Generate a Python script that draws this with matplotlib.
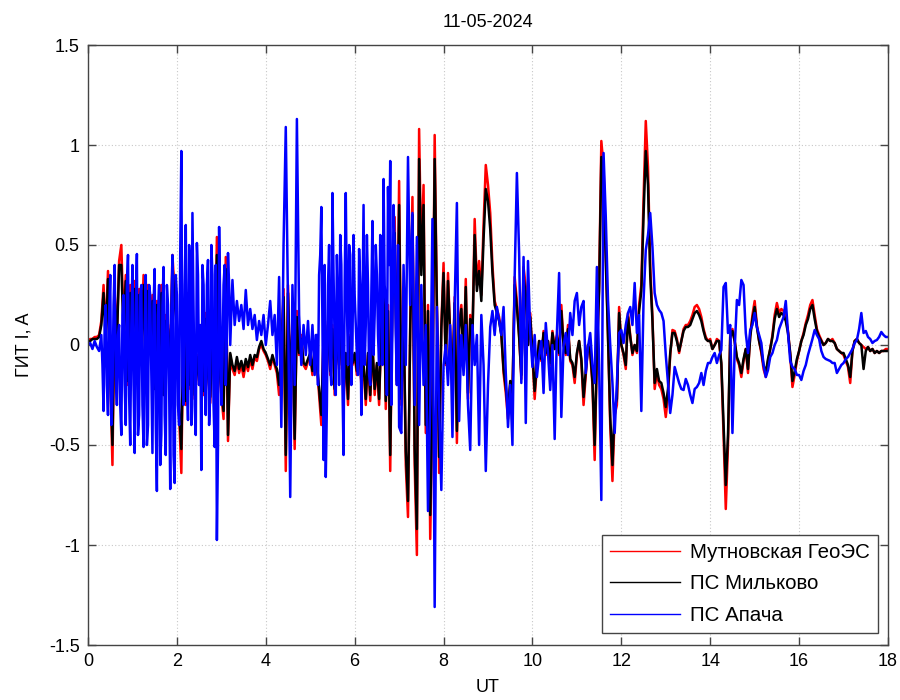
import numpy as np
import matplotlib
matplotlib.use("Agg")
import matplotlib.pyplot as plt
from matplotlib.ticker import FuncFormatter

plt.rcParams['font.family'] = ['Liberation Sans', 'DejaVu Sans']

# sample times (hours UT), one sample every 0.05 h
t_step = 0.05
n_samples = 361

# Мутновская ГеоЭС (red), one row per hour
mutnovsky = [
    0.02, 0.03, 0.03, 0.04, 0.04, 0.05, 0.12, 0.30, 0.05, 0.37, -0.15, -0.60, 0.25, 0.05, 0.42, 0.50, 0.10, 0.35, -0.20, 0.30,
    0.05, 0.32, -0.10, 0.28, 0.00, 0.35, -0.15, 0.30, 0.05, 0.25, -0.20, 0.22, -0.05, 0.30, -0.25, 0.15, 0.10, -0.10, 0.45, 0.25,
    0.10, -0.35, -0.64, 0.15, -0.30, 0.26, -0.22, 0.05, -0.27, -0.05, -0.20, 0.10, -0.25, 0.16, -0.15, -0.29, 0.05, -0.20, 0.54, -0.10,
    -0.25, -0.37, 0.44, -0.48, -0.05, -0.12, -0.15, -0.08, -0.14, -0.10, -0.16, -0.09, -0.13, -0.07, -0.12, -0.06, -0.08, -0.02, 0.00, -0.03,
    -0.05, -0.08, -0.12, -0.06, -0.10, -0.14, -0.25, -0.05, 0.28, -0.63, 0.30, -0.20, 0.10, -0.52, 0.17, -0.05, 0.05, -0.10, -0.12, -0.08,
    -0.05, -0.15, -0.02, -0.10, -0.25, -0.40, 0.05, -0.20, 0.12, -0.15, 0.10, -0.25, 0.05, -0.12, 0.15, -0.28, -0.05, -0.30, 0.05, -0.10,
    -0.05, -0.15, 0.02, -0.20, -0.10, -0.30, -0.05, -0.28, 0.00, -0.25, -0.10, -0.30, 0.10, 0.40, -0.32, 0.20, -0.63, 0.30, 0.64, -0.20,
    0.82, -0.30, 0.20, -0.60, -0.86, 0.10, 0.74, -0.60, -1.05, 1.08, 0.40, 0.80, -0.44, 0.20, -0.97, -0.30, 1.05, 0.22, -0.64, 0.10,
    0.41, -0.10, 0.36, 0.05, -0.20, 0.24, -0.49, 0.10, 0.20, -0.10, 0.33, -0.27, 0.15, 0.05, 0.63, 0.30, 0.42, 0.25, 0.60, 0.90,
    0.80, 0.66, 0.40, 0.22, 0.18, 0.14, 0.06, -0.14, -0.24, -0.37, -0.20, -0.27, 0.34, 0.22, 0.05, -0.17, 0.39, 0.29, 0.00, 0.16,
    -0.05, -0.27, -0.10, 0.02, -0.08, 0.07, -0.05, 0.02, -0.10, 0.07, -0.02, 0.05, -0.05, 0.20, 0.00, -0.05, 0.10, -0.08, -0.10, -0.19,
    -0.05, 0.02, -0.08, -0.30, -0.15, 0.00, -0.04, -0.20, -0.575, -0.05, 0.30, 1.02, 0.89, 0.475, 0.05, -0.40, -0.68, -0.35, -0.30, 0.19,
    0.00, -0.05, -0.12, 0.16, 0.05, -0.05, 0.00, -0.04, 0.20, 0.30, 0.73, 1.12, 0.89, 0.39, 0.14, -0.22, -0.14, -0.20, -0.22, -0.27,
    -0.36, -0.25, -0.05, 0.075, 0.07, 0.03, -0.04, 0.02, 0.08, 0.10, 0.10, 0.12, 0.15, 0.19, 0.20, 0.18, 0.14, 0.08, 0.04, 0.02,
    0.03, -0.02, 0.00, 0.03, 0.02, -0.10, -0.45, -0.82, -0.50, 0.05, 0.08, 0.02, -0.07, -0.10, -0.16, -0.08, -0.02, -0.14, 0.05, 0.15,
    0.22, 0.10, 0.02, -0.04, -0.12, -0.16, -0.08, -0.02, 0.05, 0.15, 0.21, 0.16, 0.18, 0.17, 0.14, 0.07, -0.05, -0.21, -0.15, -0.08,
    -0.03, 0.02, 0.06, 0.11, 0.15, 0.20, 0.225, 0.15, 0.08, 0.05, 0.025, 0.00, 0.01, 0.03, 0.02, 0.03, 0.01, -0.02, -0.03, -0.04,
    -0.05, -0.08, -0.11, -0.19, -0.03, 0.02, 0.03, 0.01, 0.00, -0.01, -0.02, -0.01, -0.03, -0.02, -0.04, -0.03, -0.04, -0.03, -0.03, -0.02,
    -0.02,
]

# ПС Мильково (black)
milkovo = [
    0.02, 0.02, 0.03, 0.03, 0.03, 0.04, 0.10, 0.26, 0.02, 0.33, -0.12, -0.50, 0.22, 0.02, 0.40, 0.40, 0.05, 0.32, -0.18, 0.26,
    0.03, 0.28, -0.12, 0.25, -0.02, 0.30, -0.18, 0.27, 0.02, 0.22, -0.22, 0.20, -0.08, 0.26, -0.25, 0.12, 0.08, -0.12, 0.40, 0.22,
    0.08, -0.32, -0.52, 0.12, -0.28, 0.22, -0.20, 0.03, -0.25, -0.06, -0.18, 0.08, -0.23, 0.13, -0.14, -0.26, 0.03, -0.18, 0.45, -0.10,
    -0.22, -0.33, 0.38, -0.45, -0.04, -0.10, -0.13, -0.06, -0.12, -0.08, -0.13, -0.07, -0.11, -0.05, -0.10, -0.05, -0.06, -0.01, 0.02, -0.02,
    -0.04, -0.07, -0.10, -0.05, -0.09, -0.12, -0.20, -0.04, 0.24, -0.55, 0.26, -0.18, 0.08, -0.47, 0.14, -0.04, 0.03, -0.09, -0.10, -0.07,
    -0.04, -0.13, -0.02, -0.09, -0.22, -0.35, 0.04, -0.18, 0.10, -0.13, 0.08, -0.22, 0.04, -0.10, 0.12, -0.25, -0.04, -0.27, 0.04, -0.09,
    -0.04, -0.13, 0.01, -0.18, -0.09, -0.27, -0.04, -0.25, 0.00, -0.22, -0.09, -0.27, 0.08, 0.35, -0.28, 0.17, -0.55, 0.26, 0.56, -0.18,
    0.70, -0.27, 0.17, -0.53, -0.78, 0.08, 0.65, -0.52, -0.92, 0.93, 0.35, 0.70, -0.40, 0.17, -0.85, -0.27, 0.93, 0.19, -0.56, 0.08,
    0.36, -0.09, 0.32, 0.04, -0.18, 0.21, -0.43, 0.08, 0.18, -0.09, 0.29, -0.24, 0.13, 0.04, 0.55, 0.27, 0.37, 0.22, 0.53, 0.78,
    0.72, 0.58, 0.36, 0.20, 0.16, 0.12, 0.05, -0.12, -0.21, -0.33, -0.18, -0.24, 0.30, 0.19, 0.04, -0.15, 0.34, 0.25, 0.00, 0.14,
    -0.04, -0.23, -0.09, 0.02, -0.07, 0.06, -0.04, 0.02, -0.09, 0.06, -0.02, 0.04, -0.04, 0.17, 0.00, -0.04, 0.08, -0.07, -0.09, -0.16,
    -0.04, 0.02, -0.07, -0.26, -0.13, 0.00, -0.03, -0.18, -0.50, -0.04, 0.27, 0.94, 0.80, 0.42, 0.04, -0.36, -0.60, -0.31, -0.27, 0.16,
    0.00, -0.04, -0.10, 0.14, 0.04, -0.04, 0.00, -0.03, 0.17, 0.27, 0.65, 0.97, 0.80, 0.35, 0.12, -0.19, -0.12, -0.18, -0.19, -0.24,
    -0.31, -0.22, -0.04, 0.06, 0.06, 0.02, -0.03, 0.02, 0.07, 0.09, 0.09, 0.10, 0.13, 0.16, 0.17, 0.15, 0.12, 0.07, 0.03, 0.02,
    0.02, -0.02, 0.00, 0.02, 0.02, -0.09, -0.40, -0.70, -0.45, 0.04, 0.07, 0.02, -0.06, -0.09, -0.14, -0.07, -0.02, -0.12, 0.04, 0.13,
    0.19, 0.09, 0.02, -0.03, -0.10, -0.14, -0.07, -0.02, 0.04, 0.13, 0.18, 0.14, 0.16, 0.15, 0.12, 0.06, -0.04, -0.18, -0.13, -0.07,
    -0.03, 0.02, 0.05, 0.10, 0.13, 0.18, 0.20, 0.13, 0.07, 0.04, 0.02, 0.00, 0.01, 0.03, 0.02, 0.02, 0.01, -0.02, -0.03, -0.04,
    -0.04, -0.07, -0.10, -0.16, -0.03, 0.02, 0.03, 0.01, 0.00, -0.12, -0.03, -0.01, -0.03, -0.02, -0.04, -0.03, -0.04, -0.03, -0.03, -0.03,
    -0.03,
]

# ПС Апача (blue)
apacha = [
    0.00, 0.01, -0.02, 0.02, -0.01, -0.03, 0.05, -0.33, 0.20, -0.35, 0.35, -0.25, 0.40, -0.30, 0.10, -0.45, 0.25, -0.40, 0.45, -0.50,
    0.40, -0.54, 0.455, -0.35, 0.30, -0.51, 0.35, -0.40, 0.25, -0.54, 0.38, -0.73, 0.30, -0.45, 0.39, -0.55, 0.20, -0.72, 0.45, -0.69,
    0.25, -0.40, 0.97, -0.30, 0.60, -0.375, 0.40, 0.66, -0.30, 0.51, -0.20, -0.625, 0.30, -0.35, 0.425, -0.25, 0.35, -0.51, -0.975, 0.59,
    -0.30, 0.30, -0.20, 0.46, 0.00, 0.325, 0.10, 0.22, 0.12, 0.20, 0.08, 0.275, 0.10, 0.18, 0.08, 0.15, 0.025, 0.12, 0.05, 0.15,
    0.00, 0.10, 0.22, 0.05, 0.15, -0.10, 0.34, -0.41, 0.50, 1.09, 0.20, -0.76, 0.30, -0.20, 1.13, 0.15, -0.10, 0.10, -0.05, 0.12,
    -0.10, 0.10, -0.15, 0.05, 0.35, 0.69, -0.575, -0.66, 0.30, -0.10, 0.76, 0.00, 0.45, -0.20, 0.40, -0.55, 0.76, -0.10, 0.45, 0.00,
    0.25, -0.05, 0.48, -0.35, 0.70, 0.10, 0.30, -0.20, 0.62, 0.15, 0.35, -0.10, 0.45, 0.83, 0.20, 0.79, 0.92, 0.10, 0.50, -0.20,
    -0.41, -0.44, 0.40, -0.10, 0.94, 0.20, 0.66, -0.30, 0.54, -0.40, 0.30, -0.20, 0.10, -0.83, -0.30, 0.63, -1.31, 0.19, -0.30, -0.725,
    -0.10, 0.00, -0.20, 0.10, -0.46, 0.20, 0.71, -0.38, 0.05, -0.15, 0.10, -0.30, -0.525, 0.10, -0.10, 0.05, -0.50, 0.15, -0.10, -0.63,
    -0.20, 0.09, 0.17, 0.05, 0.19, 0.125, 0.05, 0.19, -0.14, -0.41, -0.20, -0.50, 0.34, 0.86, 0.46, -0.19, 0.44, -0.39, 0.42, 0.06,
    -0.11, 0.05, -0.16, -0.05, 0.02, -0.24, 0.11, -0.04, -0.225, 0.00, -0.47, 0.06, 0.36, -0.36, 0.00, 0.06, -0.05, 0.16, 0.05, 0.22,
    0.26, 0.10, 0.19, 0.22, -0.14, -0.01, 0.06, -0.10, -0.19, 0.39, -0.10, -0.775, 0.96, 0.64, 0.225, 0.00, -0.19, -0.44, -0.19, 0.06,
    0.075, 0.01, 0.10, 0.16, 0.19, 0.10, 0.31, 0.06, 0.15, -0.33, 0.225, 0.475, 0.55, 0.66, 0.49, 0.26, 0.20, 0.175, 0.16, 0.12,
    -0.05, -0.19, -0.34, -0.25, -0.11, -0.15, -0.19, -0.22, -0.225, -0.17, -0.20, -0.25, -0.29, -0.22, -0.21, -0.19, -0.14, -0.20, -0.13, -0.09,
    -0.09, -0.06, -0.04, -0.09, -0.05, -0.025, 0.29, 0.31, 0.06, 0.10, -0.44, -0.025, 0.225, 0.20, 0.325, 0.30, 0.06, -0.04, 0.075, 0.10,
    0.16, 0.09, 0.05, 0.01, -0.10, -0.16, -0.125, -0.06, -0.04, 0.00, 0.025, 0.08, 0.11, 0.14, 0.22, 0.06, -0.08, -0.11, -0.12, -0.15,
    -0.15, -0.175, -0.13, -0.10, -0.05, -0.01, 0.03, 0.075, 0.05, 0.03, -0.03, -0.06, -0.07, -0.075, -0.08, -0.09, -0.09, -0.14, -0.12, -0.10,
    -0.09, -0.07, -0.06, -0.04, -0.02, 0.01, 0.025, 0.08, 0.16, 0.06, 0.07, 0.04, 0.03, 0.01, 0.02, 0.025, 0.04, 0.065, 0.05, 0.04,
    0.04,
]

# extra ПС Апача samples in the densest bursts (half a step after the grid)
apacha_burst1_start = 0.325   # 0.325 ... 3.175 h
apacha_burst1 = [
    -0.10, 0.10, -0.20, 0.15, -0.40, 0.20, -0.15, 0.05, -0.30, 0.15, -0.20, 0.30, -0.25, 0.10,
    -0.20, 0.20, -0.45, 0.25, -0.30, 0.10, -0.50, 0.30, -0.15, 0.20, -0.40, 0.15, -0.60, 0.20, -0.35, 0.30, -0.20, 0.15, -0.55, 0.35,
    -0.30, 0.45, -0.20, 0.30, -0.15, 0.50, -0.40, 0.20, -0.45, 0.35, 0.10, 0.40, -0.20, 0.30, -0.40, 0.50, -0.30, 0.40, -0.50, 0.20,
    -0.10, 0.40, 0.05, 0.30,
]
apacha_burst2_start = 5.125   # 5.125 ... 6.975 h
apacha_burst2 = [
    0.05, -0.20, 0.45, 0.10, 0.40, -0.30, 0.50, -0.20, 0.35, -0.25, 0.20, 0.55, -0.20, 0.30, 0.20, 0.50, -0.20, 0.55,
    0.10, -0.15, 0.30, 0.20, -0.10, 0.55, -0.15, 0.25, -0.05, 0.50, 0.05, 0.55, -0.10, 0.30, -0.25, 0.40, -0.30, 0.70, 0.05, 0.50,
]

series_names = ["Мутновская ГеоЭС", "ПС Мильково", "ПС Апача"]
series_colors = ["#ff0000", "#000000", "#0000ff"]
title_text = "11-05-2024"
x_label = "UT"
y_label = "ГИТ I, A"
x_ticks = [0, 2, 4, 6, 8, 10, 12, 14, 16, 18]
y_ticks = [-1.5, -1, -0.5, 0, 0.5, 1, 1.5]

t = np.arange(n_samples) * t_step

# merge the blue grid with its burst samples in time order
tb = np.concatenate([t,
                     apacha_burst1_start + np.arange(len(apacha_burst1)) * t_step,
                     apacha_burst2_start + np.arange(len(apacha_burst2)) * t_step])
vb = np.concatenate([apacha, apacha_burst1, apacha_burst2])
order = np.argsort(tb, kind='stable')
tb, vb = tb[order], vb[order]

fig = plt.figure(figsize=(9, 7), dpi=100)
ax = fig.add_axes([88/900, 1-645/700, 800/900, 600/700])

ax.plot(t, mutnovsky, color=series_colors[0], lw=1.8, label=series_names[0])
ax.plot(t, milkovo, color=series_colors[1], lw=1.8, label=series_names[1])
ax.plot(tb, vb, color=series_colors[2], lw=1.8, label=series_names[2])

ax.set_xlim(0, 18)
ax.set_ylim(-1.5, 1.5)
ax.set_xticks(x_ticks)
ax.set_yticks(y_ticks)
ax.yaxis.set_major_formatter(FuncFormatter(lambda v, p: ('%g' % v)))
ax.grid(True, color='#c8c8c8', linestyle=(0, (1, 2)), linewidth=0.8)
ax.tick_params(direction='in', top=True, right=True, length=6, width=1,
               color='#444444', labelsize=13, pad=6)
for s in ax.spines.values():
    s.set_color('#444444')
    s.set_linewidth(1.0)

ax.set_title(title_text, fontsize=13, pad=13)
ax.set_xlabel(x_label, fontsize=13, labelpad=6)
ax.set_ylabel(y_label, fontsize=13, labelpad=12)

leg = ax.legend(loc='lower right', fontsize=14.8, frameon=True, fancybox=False,
                edgecolor='#444444', framealpha=1, handlelength=3.4,
                handletextpad=0.45, borderpad=0.4, labelspacing=0.6,
                bbox_to_anchor=(1.0, 0.003))
leg.get_frame().set_linewidth(1.0)
for line in leg.get_lines():
    line.set_linewidth(1.0)

fig.savefig("out.png", dpi=100)
